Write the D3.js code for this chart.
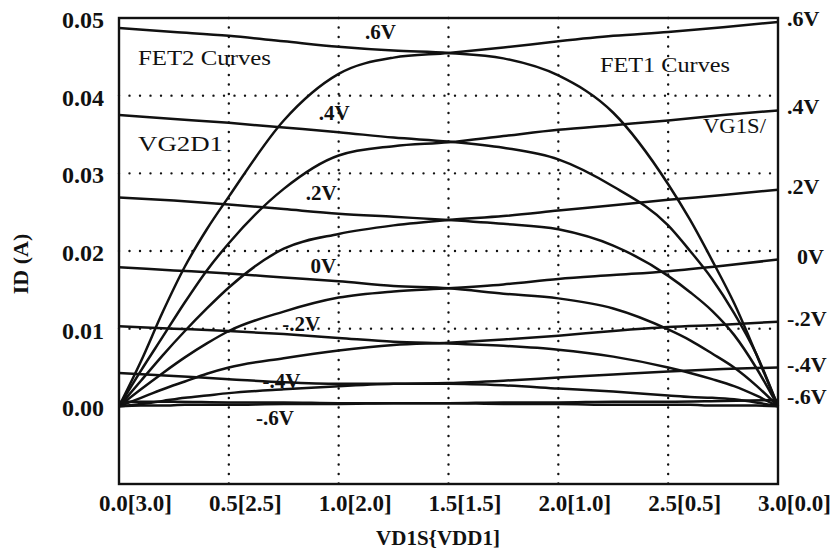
<!DOCTYPE html>
<html lang="en">
<head>
<meta charset="UTF-8">
<title>FET Curves</title>
<script src="https://cdn.jsdelivr.net/npm/d3@7/dist/d3.min.js"></script>
<style>
  body { margin: 0; background: #fff; }
  text { font-family: "Liberation Serif", "Times New Roman", serif; fill: #111; }
</style>
</head>
<body>
<div id="container"></div>
<script>
// FET1 curves (VG1S), sampled at vd1s
let vd1s = [0, 0.1, 0.2, 0.3, 0.4, 0.5, 0.75, 1.0, 1.25, 1.5, 1.75, 2.0, 2.25, 2.5, 2.75, 3.0];
let fet1Names = ['.6V', '.4V', '.2V', '0V', '-.2V', '-.4V', '-.6V'];
let fet1_p6 = [0, 0.0058, 0.0122, 0.0180, 0.0228, 0.0270, 0.0368, 0.0428, 0.0449, 0.0455, 0.0462, 0.0470, 0.0477, 0.0482, 0.0488, 0.0495];
let fet1_p4 = [0, 0.0046, 0.0090, 0.0134, 0.0175, 0.0210, 0.0280, 0.0323, 0.0335, 0.0340, 0.0348, 0.0356, 0.0362, 0.0368, 0.0375, 0.0381];
let fet1_p2 = [0, 0.0033, 0.0066, 0.0097, 0.0126, 0.0153, 0.0203, 0.0222, 0.0233, 0.0240, 0.0245, 0.0252, 0.0259, 0.0266, 0.0272, 0.0279];
let fet1_0 = [0, 0.0022, 0.0043, 0.0063, 0.0081, 0.0097, 0.0122, 0.0140, 0.0148, 0.0152, 0.0157, 0.0164, 0.0169, 0.0174, 0.0181, 0.0189];
let fet1_m2 = [0, 0.0011, 0.0022, 0.0032, 0.0042, 0.0050, 0.0062, 0.0072, 0.0079, 0.0082, 0.0086, 0.0091, 0.0097, 0.0102, 0.0105, 0.0109];
let fet1_m4 = [0, 0.0003, 0.0007, 0.0011, 0.0014, 0.0017, 0.0022, 0.0026, 0.0029, 0.0030, 0.0033, 0.0037, 0.0041, 0.0045, 0.0048, 0.0050];
let fet1_m6 = [0, 0.0001, 0.0001, 0.0002, 0.0002, 0.0002, 0.0003, 0.0003, 0.0004, 0.0004, 0.0005, 0.0005, 0.0006, 0.0006, 0.0007, 0.0008];

// FET2 curves (VG2D1), sampled at vd1s2
let vd1s2 = [0, 0.25, 0.5, 0.75, 1.0, 1.25, 1.5, 1.75, 2.0, 2.25, 2.5, 2.6, 2.7, 2.8, 2.9, 3.0];
let fet2Names = ['.6V', '.4V', '.2V', '0V', '-.2V', '-.4V', '-.6V'];
let fet2_p6 = [0.0487, 0.0482, 0.0477, 0.0470, 0.0463, 0.0458, 0.0455, 0.0448, 0.0426, 0.0378, 0.0286, 0.0240, 0.0188, 0.0133, 0.0068, 0];
let fet2_p4 = [0.0375, 0.0370, 0.0365, 0.0359, 0.0353, 0.0346, 0.0341, 0.0333, 0.0318, 0.0283, 0.0233, 0.0200, 0.0164, 0.0120, 0.0068, 0];
let fet2_p2 = [0.0269, 0.0265, 0.0260, 0.0254, 0.0248, 0.0244, 0.0240, 0.0235, 0.0228, 0.0207, 0.0168, 0.0147, 0.0123, 0.0092, 0.0050, 0];
let fet2_0 = [0.0179, 0.0175, 0.0171, 0.0166, 0.0161, 0.0155, 0.0152, 0.0145, 0.0139, 0.0126, 0.0099, 0.0085, 0.0068, 0.0050, 0.0027, 0];
let fet2_m2 = [0.0103, 0.0100, 0.0097, 0.0093, 0.0088, 0.0083, 0.0081, 0.0078, 0.0073, 0.0064, 0.0050, 0.0043, 0.0035, 0.0026, 0.0014, 0];
let fet2_m4 = [0.0043, 0.0039, 0.0035, 0.0031, 0.0029, 0.0029, 0.0029, 0.0027, 0.0023, 0.0019, 0.0014, 0.0012, 0.0011, 0.0009, 0.0005, 0];
let fet2_m6 = [0.0006, 0.0006, 0.0005, 0.0005, 0.0004, 0.0004, 0.0004, 0.0003, 0.0003, 0.0002, 0.0002, 0.0002, 0.0001, 0.0001, 0.0001, 0];

// axis ticks
let xTicks = [0, 0.5, 1.0, 1.5, 2.0, 2.5, 3.0];
let xTickLabels = ['0.0[3.0]', '0.5[2.5]', '1.0[2.0]', '1.5[1.5]', '2.0[1.0]', '2.5[0.5]', '3.0[0.0]'];
let yTicks = [0, 0.01, 0.02, 0.03, 0.04, 0.05];
let yTickLabels = ['0.00', '0.01', '0.02', '0.03', '0.04', '0.05'];

let fet1 = [fet1_p6, fet1_p4, fet1_p2, fet1_0, fet1_m2, fet1_m4, fet1_m6];
let fet2 = [fet2_p6, fet2_p4, fet2_p2, fet2_0, fet2_m2, fet2_m4, fet2_m6];

let W = 838, H = 552;
let mLeft = 119, mRight = 778, mTop = 18, mBottom = 484;

let svg = d3.select('#container')
    .append('svg')
    .attr('width', W)
    .attr('height', H)
    .style('background-color', '#fff');

let x = d3.scaleLinear().domain([0, 3]).range([mLeft, mRight]);
let y = d3.scaleLinear().domain([-0.01, 0.05]).range([mBottom, mTop]);

// dotted grid
svg.selectAll('.vgrid')
    .data(xTicks.slice(1, -1))
    .enter().append('line')
    .attr('x1', d => x(d)).attr('x2', d => x(d))
    .attr('y1', mTop).attr('y2', mBottom)
    .attr('stroke', '#111')
    .attr('stroke-width', 2.4)
    .attr('stroke-linecap', 'round')
    .attr('stroke-dasharray', '0,9.5');

svg.selectAll('.hgrid')
    .data(yTicks.slice(1, -1))
    .enter().append('line')
    .attr('x1', mLeft).attr('x2', mRight)
    .attr('y1', d => y(d)).attr('y2', d => y(d))
    .attr('stroke', '#111')
    .attr('stroke-width', 2.4)
    .attr('stroke-linecap', 'round')
    .attr('stroke-dasharray', '0,10.5');

// curves
let line1 = d3.line()
    .x((d, i) => x(vd1s[i]))
    .y(d => y(d))
    .curve(d3.curveMonotoneX);

let line2 = d3.line()
    .x((d, i) => x(vd1s2[i]))
    .y(d => y(d))
    .curve(d3.curveMonotoneX);

svg.selectAll('.fet1')
    .data(fet1)
    .enter().append('path')
    .attr('d', line1)
    .attr('fill', 'none')
    .attr('stroke', '#111')
    .attr('stroke-width', 2.5)
    .attr('stroke-linejoin', 'round');

svg.selectAll('.fet2')
    .data(fet2)
    .enter().append('path')
    .attr('d', line2)
    .attr('fill', 'none')
    .attr('stroke', '#111')
    .attr('stroke-width', 2.5)
    .attr('stroke-linejoin', 'round');

// frame
svg.append('rect')
    .attr('x', mLeft).attr('y', mTop)
    .attr('width', mRight - mLeft).attr('height', mBottom - mTop)
    .attr('fill', 'none')
    .attr('stroke', '#111')
    .attr('stroke-width', 2.4);

// axes
let xAxis = svg.append('g')
    .attr('transform', 'translate(0,' + mBottom + ')')
    .call(d3.axisBottom(x).tickValues(xTicks).tickFormat((d, i) => xTickLabels[i]).tickSize(0).tickPadding(11));
xAxis.select('.domain').remove();
xAxis.selectAll('text')
    .attr('dx', 16)
    .style('font-family', '"Liberation Serif", serif')
    .style('font-size', '23px')
    .style('font-weight', 'bold')
    .attr('fill', '#111');

let yAxis = svg.append('g')
    .attr('transform', 'translate(' + mLeft + ',0)')
    .call(d3.axisLeft(y).tickValues(yTicks).tickFormat((d, i) => yTickLabels[i]).tickSize(0).tickPadding(15));
yAxis.select('.domain').remove();
yAxis.selectAll('text')
    .attr('dy', '0.4em')
    .style('font-family', '"Liberation Serif", serif')
    .style('font-size', '24px')
    .style('font-weight', 'bold')
    .attr('fill', '#111');

svg.append('text')
    .attr('x', 438)
    .attr('y', 545)
    .attr('text-anchor', 'middle')
    .style('font-size', '21px')
    .style('font-weight', 'bold')
    .text('VD1S{VDD1]');

svg.append('text')
    .attr('transform', 'translate(28,264) rotate(-90)')
    .attr('text-anchor', 'middle')
    .style('font-size', '22px')
    .style('font-weight', 'bold')
    .text('ID (A)');

// right-hand labels at the end of each FET1 curve
svg.selectAll('.rlab')
    .data(fet1)
    .enter().append('text')
    .attr('x', (d, i) => fet1Names[i] == '0V' ? 797 : 787)
    .attr('y', d => y(d[d.length - 1]) + 4)
    .style('font-size', '22px')
    .style('font-weight', 'bold')
    .text((d, i) => fet1Names[i]);

// labels along the FET2 curves
let fet2LabelX = [1.19, 0.98, 0.92, 0.93, 0.83, 0.74, 0.71];
let fet2LabelY = [0.0483, 0.0378, 0.0275, 0.0181, 0.0107, 0.0033, -0.0014];
svg.selectAll('.llab')
    .data(fet2Names)
    .enter().append('text')
    .attr('x', (d, i) => x(fet2LabelX[i]))
    .attr('y', (d, i) => y(fet2LabelY[i]))
    .attr('text-anchor', 'middle')
    .attr('dy', '0.35em')
    .style('font-size', '21px')
    .style('font-weight', 'bold')
    .text(d => d);

// titles inside the plot
let notes = [
    {t: 'FET2 Curves', x: 138, y: 65, w: 133},
    {t: 'VG2D1', x: 138, y: 151, w: 85},
    {t: 'FET1 Curves', x: 600, y: 72, w: 130},
    {t: 'VG1S/', x: 703, y: 133, w: 63}
];
svg.selectAll('.note')
    .data(notes)
    .enter().append('text')
    .attr('x', d => d.x)
    .attr('y', d => d.y)
    .attr('textLength', d => d.w)
    .attr('lengthAdjust', 'spacingAndGlyphs')
    .style('font-size', '21px')
    .text(d => d.t);
</script>
</body>
</html>
